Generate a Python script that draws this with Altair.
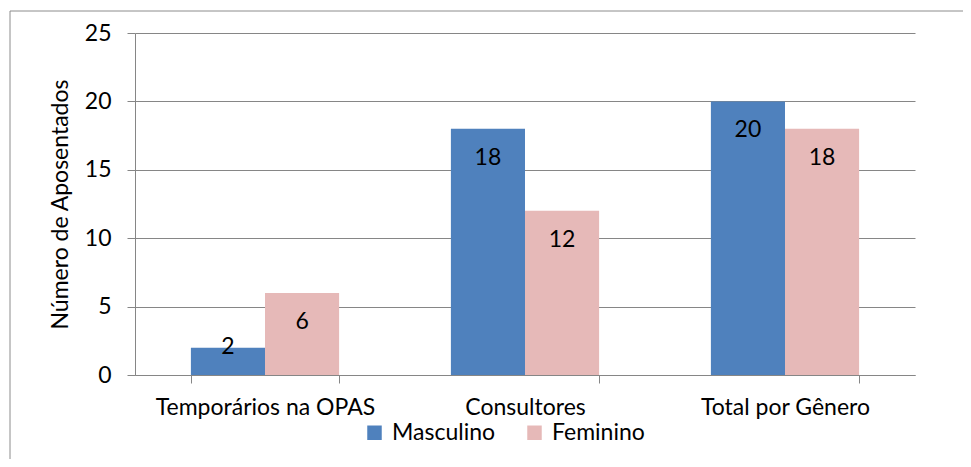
import altair as alt
import pandas as pd

categories = ["Temporários na OPAS", "Consultores", "Total por Gênero"]
series = ["Masculino", "Feminino"]
masculino = [2, 18, 20]
feminino = [6, 12, 18]
colors = ["#4F81BD", "#E6B9B8"]

rows = []
for c, m, f in zip(categories, masculino, feminino):
    rows.append({"cat": c, "serie": "Masculino", "valor": m})
    rows.append({"cat": c, "serie": "Feminino", "valor": f})
df = pd.DataFrame(rows)

FONT = "Lato"
FS = 23
GRID = "#868686"

yscale = alt.Scale(domain=[0, 25], nice=False)

x = alt.X("cat:N", sort=categories, title=None,
          scale=alt.Scale(paddingInner=0.43, paddingOuter=0.215),
          axis=alt.Axis(labelAngle=0, tickBand="extent", tickSize=8,
                        domainColor=GRID, tickColor=GRID, labelFontSize=FS,
                        labelFont=FONT, labelColor="black", labelPadding=13,
                        labelLimit=0, grid=False))
xoff = alt.XOffset("serie:N", sort=series, scale=alt.Scale(paddingInner=0, paddingOuter=0))
y = alt.Y("valor:Q", title="Número de Aposentados", scale=yscale,
          axis=alt.Axis(values=[0, 5, 10, 15, 20, 25], tickSize=8, tickColor=GRID,
                        domainColor=GRID, gridColor=GRID, labelFontSize=FS,
                        labelFont=FONT, labelColor="black", labelPadding=16,
                        titleFont=FONT, titleFontSize=FS, titleFontWeight="normal",
                        titleColor="black", titlePadding=12))

bars = alt.Chart(df).mark_bar(stroke=None).encode(
    x=x, xOffset=xoff, y=y,
    color=alt.Color("serie:N", sort=series, title=None,
                    scale=alt.Scale(domain=series, range=colors),
                    legend=alt.Legend(orient="none", legendX=228, legendY=388,
                                      direction="horizontal", symbolType="square",
                                      symbolSize=210, symbolStrokeWidth=0,
                                      labelFont=FONT, labelFontSize=FS,
                                      labelColor="black", labelOffset=6,
                                      columnPadding=27)),
)

labels = alt.Chart(df).transform_calculate(
    pos="datum.valor < 4 ? datum.valor + 2.15 : datum.valor"
).mark_text(baseline="middle", dy=29, font=FONT, fontSize=FS, color="black").encode(
    x=alt.X("cat:N", sort=categories),
    xOffset=alt.XOffset("serie:N", sort=series),
    y=alt.Y("pos:Q", scale=yscale),
    text=alt.Text("valor:Q"),
)

frame_data = alt.Data(values=[{"k": 1}])
frame_left = alt.Chart(frame_data).mark_rule(color="#8C8C8C", strokeWidth=1).encode(
    x=alt.value(-125), y=alt.value(-22), y2=alt.value(430))
frame_top = alt.Chart(frame_data).mark_rule(color="#8C8C8C", strokeWidth=1).encode(
    x=alt.value(-125), x2=alt.value(840), y=alt.value(-22))

chart = alt.layer(bars, labels, frame_left, frame_top).properties(
    width=780, height=342,
    autosize=alt.AutoSizeParams(type="none"),
    padding={"left": 127, "top": 25, "right": 48, "bottom": 84},
).configure_view(stroke=None).configure_axis(gridWidth=1)

chart.save("out.html", embed_options={"renderer": "svg", "actions": False})
